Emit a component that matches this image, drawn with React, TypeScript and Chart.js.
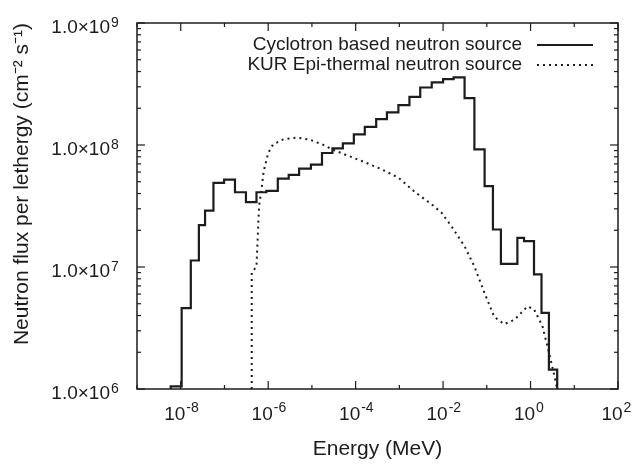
import React, { useEffect, useRef } from 'react';
import { Chart, registerables } from 'chart.js';

Chart.register(...registerables);

// Cyclotron histogram: bin edges (MeV) and flux per bin
const cycEdges = [
  5.9e-9, 1.05e-8, 1.7e-8, 2.6e-8, 3.6e-8, 5.6e-8, 9.8e-8, 1.74e-7, 3.1e-7, 5.4e-7,
  9.1e-7, 1.66e-6, 2.95e-6, 5.1e-6, 9.5e-6, 1.7e-5, 2.95e-5, 5.1e-5, 9.1e-5, 1.62e-4,
  2.95e-4, 5.2e-4, 9.5e-4, 1.7e-3, 3.0e-3, 5.5e-3, 1.0e-2, 1.74e-2, 3.1e-2, 5.2e-2,
  8.9e-2, 0.138, 0.21, 0.5, 0.71, 1.2, 1.78, 2.63, 4.07,
];
const cycFlux = [
  1.05e6, 4.6e6, 1.13e7, 2.2e7, 2.9e7, 4.9e7, 5.2e7, 4.1e7, 3.4e7, 4.1e7,
  4.2e7, 5.3e7, 5.7e7, 6.4e7, 6.9e7, 8.6e7, 9.4e7, 1.03e8, 1.22e8, 1.41e8,
  1.63e8, 1.85e8, 2.12e8, 2.48e8, 2.96e8, 3.26e8, 3.47e8, 3.58e8, 2.42e8, 9.2e7,
  4.6e7, 2.03e7, 1.06e7, 1.73e7, 1.63e7, 8.7e6, 4.2e6, 1.44e6,
];

// KUR epi-thermal spectrum
const kurEnergy = [
  4.2e-7, 4.2e-7, 5.4e-7, 6.2e-7, 6.9e-7, 7.9e-7, 1.0e-6, 1.29e-6, 2.2e-6, 4.4e-6,
  8.7e-6, 1.74e-5, 2.95e-5, 7.1e-5, 1.66e-4, 4.0e-4, 9.5e-4, 2.3e-3, 5.5e-3, 9.1e-3,
  1.55e-2, 3.1e-2, 5.2e-2, 8.9e-2, 0.148, 0.25, 0.43, 0.85, 1.2, 1.86,
  2.63, 3.4, 4.07,
];
const kurFlux = [
  1e6, 8.96e6, 1.01e7, 3.2e7, 4.1e7, 6.1e7, 8.6e7, 1.01e8, 1.11e8, 1.15e8,
  1.11e8, 1.01e8, 9.2e7, 8.1e7, 7.2e7, 6.3e7, 5.4e7, 4.1e7, 3.26e7, 2.8e7,
  2.16e7, 1.48e7, 1.01e7, 6.1e6, 3.9e6, 3.4e6, 3.7e6, 4.75e6, 4.5e6, 3.3e6,
  2.0e6, 1.35e6, 1e6,
];

const seriesNames = ['Cyclotron based neutron source', 'KUR Epi-thermal neutron source'];

const xExps = [-9, -8, -7, -6, -5, -4, -3, -2, -1, 0, 1, 2];
const xLabelExps = [-8, -6, -4, -2, 0, 2];
const xLabelBase = '10';
const xLabelSup = ['-8', '-6', '-4', '-2', '0', '2'];
const yExps = [6, 7, 8, 9];
const yLabelBase = '1.0×10';
const yLabelSup = ['6', '7', '8', '9'];

const X_MIN = 1e-9;
const X_MAX = 1e2;
const Y_MIN = 1e6;
const Y_MAX = 1e9;

const FONT = "'Liberation Sans', Arial, Helvetica, sans-serif";
const INK = '#1c1c1c';

const framePlugin = {
  id: 'gnuFrame',
  afterDatasetsDraw(chart: any) {
    const { ctx, chartArea: a, scales } = chart;
    const x = scales.x;
    const y = scales.y;
    ctx.save();
    ctx.strokeStyle = INK;
    ctx.lineWidth = 1.5;
    ctx.strokeRect(a.left, a.top, a.right - a.left, a.bottom - a.top);
    ctx.lineWidth = 1.2;
    const seg = (x1: number, y1: number, x2: number, y2: number) => {
      ctx.beginPath();
      ctx.moveTo(x1, y1);
      ctx.lineTo(x2, y2);
      ctx.stroke();
    };
    xExps.forEach((e) => {
      const px = x.getPixelForValue(Math.pow(10, e));
      const len = e % 2 === 0 ? 8 : 4;
      seg(px, a.bottom, px, a.bottom - len);
      seg(px, a.top, px, a.top + len);
    });
    yExps.forEach((e) => {
      for (let m = 1; m <= 9; m++) {
        if (e === 9 && m > 1) break;
        const py = y.getPixelForValue(m * Math.pow(10, e));
        const len = m === 1 ? 8 : 4;
        seg(a.left, py, a.left + len, py);
        seg(a.right, py, a.right - len, py);
      }
    });

    // tick labels with raised exponents, positioned from the scales
    ctx.fillStyle = INK;
    ctx.textBaseline = 'alphabetic';
    const bigFont = `19px ${FONT}`;
    const supFont = `14px ${FONT}`;

    ctx.font = bigFont;
    const xBaseW = ctx.measureText(xLabelBase).width;
    xLabelExps.forEach((e, i) => {
      const px = x.getPixelForValue(Math.pow(10, e));
      const baseline = a.bottom + 31;
      const baseLeft = px - 6 - xBaseW / 2;
      ctx.font = bigFont;
      ctx.textAlign = 'left';
      ctx.fillText(xLabelBase, baseLeft, baseline);
      ctx.font = supFont;
      ctx.fillText(xLabelSup[i], baseLeft + xBaseW + 1, baseline - 8);
    });

    yExps.forEach((e, i) => {
      const py = y.getPixelForValue(Math.pow(10, e));
      const baseline = py + 10;
      ctx.font = bigFont;
      ctx.textAlign = 'right';
      ctx.fillText(yLabelBase, a.left - 27, baseline);
      ctx.font = supFont;
      ctx.textAlign = 'left';
      ctx.fillText(yLabelSup[i], a.left - 26, baseline - 6);
    });
    ctx.restore();
  },
};

const legendPlugin = {
  id: 'gnuLegend',
  afterDraw(chart: any) {
    const { ctx } = chart;
    ctx.save();
    ctx.font = `19px ${FONT}`;
    ctx.textAlign = 'right';
    ctx.textBaseline = 'middle';
    ctx.fillStyle = INK;
    chart.data.datasets.forEach((ds: any, i: number) => {
      const yy = 45 + i * 20;
      ctx.fillText(ds.label, 522, yy);
      ctx.strokeStyle = INK;
      ctx.lineWidth = ds.borderWidth;
      ctx.setLineDash(ds.borderDash || []);
      ctx.beginPath();
      ctx.moveTo(537, yy);
      ctx.lineTo(593, yy);
      ctx.stroke();
    });
    ctx.restore();
  },
};

export default function App() {
  const ref = useRef<HTMLCanvasElement | null>(null);

  useEffect(() => {
    document.body.style.margin = '0';
    document.body.style.background = '#ffffff';
    const canvas = ref.current;
    if (!canvas) return;

    const last = cycFlux.length - 1;
    const cycPoints = [
      { x: cycEdges[0], y: Y_MIN },
      ...cycFlux.map((v, i) => ({ x: cycEdges[i], y: v })),
      { x: cycEdges[last + 1], y: cycFlux[last] },
      { x: cycEdges[last + 1], y: Y_MIN },
    ];
    const kurPoints = kurEnergy.map((e, i) => ({ x: e, y: kurFlux[i] }));

    const chart = new Chart(canvas, {
      type: 'line',
      data: {
        datasets: [
          {
            label: seriesNames[0],
            data: cycPoints,
            stepped: 'before',
            borderColor: INK,
            borderWidth: 2.2,
            pointRadius: 0,
            fill: false,
          },
          {
            label: seriesNames[1],
            data: kurPoints,
            borderColor: INK,
            borderWidth: 2,
            borderDash: [2, 4],
            pointRadius: 0,
            tension: 0,
            fill: false,
          },
        ],
      },
      options: {
        animation: false,
        responsive: false,
        events: [],
        layout: { padding: { top: 23, right: 15, left: 0, bottom: 0 } },
        plugins: {
          legend: { display: false },
          tooltip: { enabled: false },
        },
        scales: {
          x: {
            type: 'logarithmic',
            min: X_MIN,
            max: X_MAX,
            afterBuildTicks: (s: any) => {
              s.ticks = xExps.map((e) => ({ value: Math.pow(10, e) }));
            },
            afterFit: (s: any) => {
              s.height = 77;
            },
            grid: { display: false, drawTicks: false },
            border: { display: false },
            ticks: { display: false },
            title: {
              display: true,
              text: 'Energy (MeV)',
              color: INK,
              font: { family: FONT, size: 21 },
              padding: { top: 0, bottom: 4 },
            },
          },
          y: {
            type: 'logarithmic',
            min: Y_MIN,
            max: Y_MAX,
            afterBuildTicks: (s: any) => {
              s.ticks = yExps.map((e) => ({ value: Math.pow(10, e) }));
            },
            afterFit: (s: any) => {
              s.width = 137;
            },
            grid: { display: false, drawTicks: false },
            border: { display: false },
            ticks: { display: false },
            title: {
              display: true,
              text: 'Neutron flux per lethergy (cm⁻² s⁻¹)',
              align: 'end',
              color: INK,
              font: { family: FONT, size: 21 },
              padding: { top: 10, bottom: 0 },
            },
          },
        },
      },
      plugins: [framePlugin, legendPlugin],
    } as any);

    return () => chart.destroy();
  }, []);

  return (
    <div style={{ width: 633, height: 466, background: '#fff' }}>
      <canvas ref={ref} width={633} height={466} style={{ display: 'block' }} />
    </div>
  );
}
